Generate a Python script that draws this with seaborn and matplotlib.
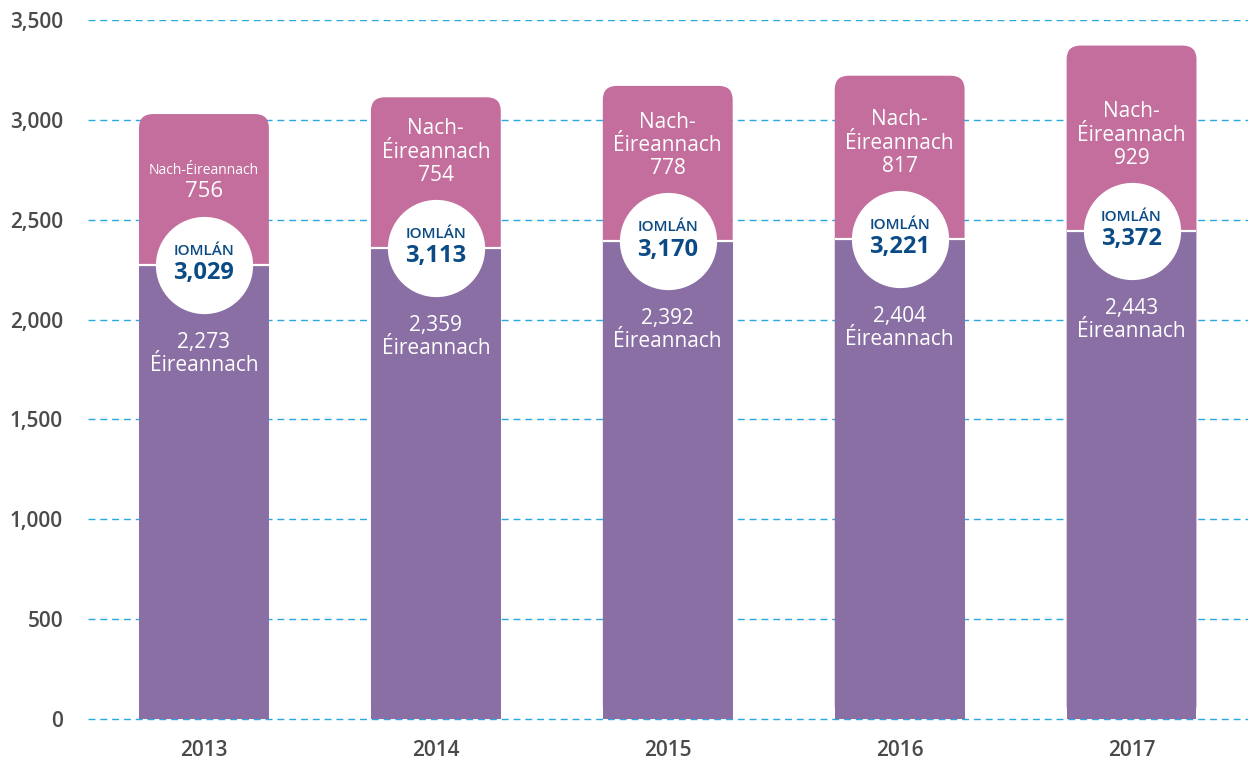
import matplotlib
matplotlib.use("Agg")
import matplotlib.pyplot as plt
from matplotlib.patches import FancyBboxPatch
import seaborn as sns

# data
years = ["2013", "2014", "2015", "2016", "2017"]
eireannach = [2273, 2359, 2392, 2404, 2443]
nach_eireannach = [756, 754, 778, 817, 929]
totals = [3029, 3113, 3170, 3221, 3372]
yticks = [0, 500, 1000, 1500, 2000, 2500, 3000, 3500]

pink = "#C36E9C"
purple = "#8A6FA4"
grid_blue = "#2AA8E0"
navy = "#0B4B85"
grey = "#4A4A4A"

sns.set_style("white")
plt.rcParams["font.family"] = ["Open Sans", "DejaVu Sans"]

fig = plt.figure(figsize=(12.5, 7.6), dpi=100)
ax = fig.add_axes([0.0704, 0.0518, 0.9276, 0.9219])

# total bars (pink) with rounded tops
sns.barplot(x=years, y=totals, color=pink, saturation=1, width=0.56,
            errorbar=None, ax=ax, zorder=2)
pink_bars = list(ax.patches)
for p in pink_bars:
    rb = FancyBboxPatch((p.get_x(), p.get_y()), p.get_width(), p.get_height(),
                        boxstyle="round,pad=0,rounding_size=0.06",
                        mutation_aspect=1150, facecolor=pink, edgecolor="none",
                        zorder=2)
    p.remove()
    ax.add_patch(rb)

# Irish bars (purple) on top
n = len(ax.patches)
sns.barplot(x=years, y=eireannach, color=purple, saturation=1, width=0.56,
            errorbar=None, ax=ax, zorder=3)
purple_bars = ax.patches[n:]
for p in purple_bars:
    p.set_edgecolor("none")
    ax.plot([p.get_x(), p.get_x() + p.get_width()], [p.get_height()] * 2,
            color="white", lw=1.6, zorder=4, solid_capstyle="butt")

# white circles at the split
ax.scatter(range(len(years)), eireannach, s=4900, color="white", zorder=5,
           linewidths=0)

for i, (ir, ni, tot) in enumerate(zip(eireannach, nach_eireannach, totals)):
    ax.annotate("IOMLÁN", (i, ir), xytext=(0, 10), textcoords="offset points",
                ha="center", va="center", fontsize=11, fontweight="semibold",
                color=navy, zorder=6)
    ax.annotate(f"{tot:,}", (i, ir), xytext=(0, -6), textcoords="offset points",
                ha="center", va="center", fontsize=17, fontweight="bold",
                color=navy, zorder=6)
    ax.annotate(f"{ir:,}\nÉireannach", (i, ir), xytext=(0, -64),
                textcoords="offset points", ha="center", va="center",
                fontsize=15, color="white", linespacing=1.15, zorder=6)
    if i == 0:
        ax.annotate("Nach-Éireannach", (i, ir), xytext=(0, 68),
                    textcoords="offset points", ha="center", va="center",
                    fontsize=10, color="white", zorder=6)
        ax.annotate(f"{ni:,}", (i, ir), xytext=(0, 53),
                    textcoords="offset points", ha="center", va="center",
                    fontsize=16, color="white", zorder=6)
    else:
        ax.annotate(f"Nach-\nÉireannach\n{ni:,}", (i, ir), xytext=(0, 69),
                    textcoords="offset points", ha="center", va="center",
                    fontsize=15, color="white", linespacing=1.15, zorder=6)

ax.set_xlim(-0.5, len(years) - 0.5)
ax.set_ylim(-8, 3500)
ax.set_yticks(yticks)
ax.set_yticklabels([f"{v:,}" for v in yticks])
ax.yaxis.grid(True, color=grid_blue, linestyle=(0, (5, 3.5)), lw=1)
ax.xaxis.grid(False)
ax.set_axisbelow(True)
ax.tick_params(axis="y", length=0, pad=18, labelsize=15, labelcolor=grey)
ax.tick_params(axis="x", length=0, pad=14, labelsize=15, labelcolor=grey)
for lab in ax.get_xticklabels() + ax.get_yticklabels():
    lab.set_fontweight("semibold")
ax.set_xlabel("")
ax.set_ylabel("")
sns.despine(ax=ax, left=True, bottom=True)

fig.savefig("out.png", dpi=100)
